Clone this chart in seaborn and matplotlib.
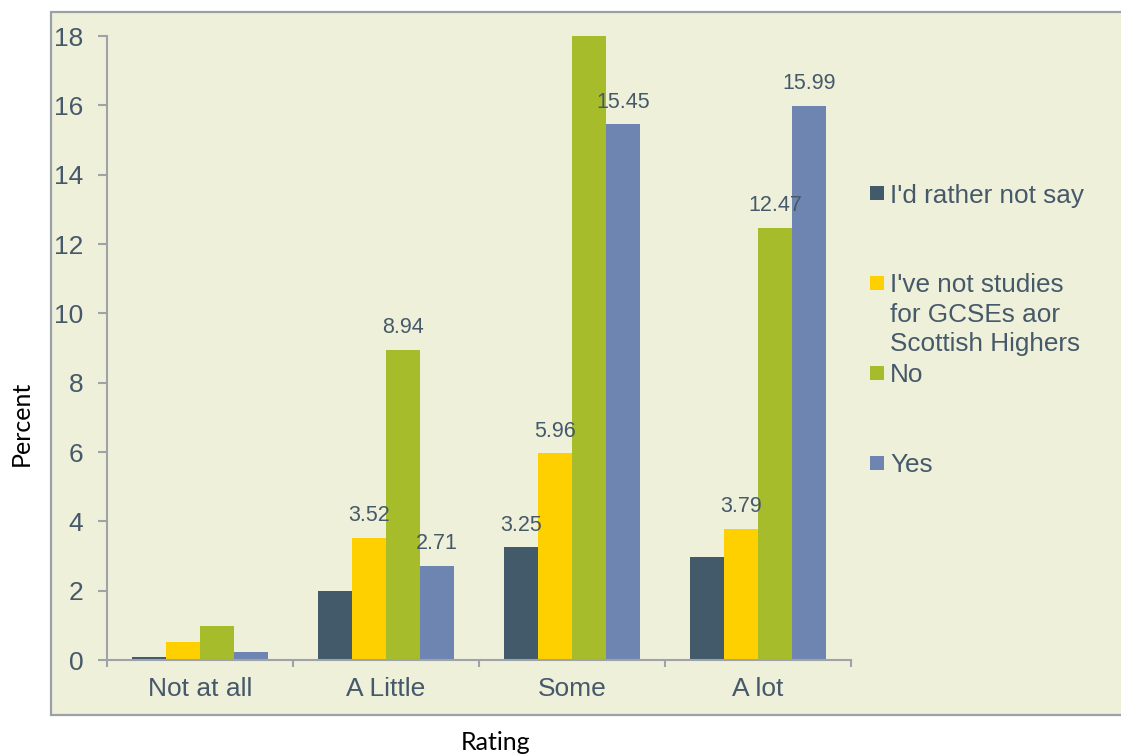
import matplotlib
matplotlib.use("Agg")
import matplotlib.pyplot as plt
from matplotlib.patches import Rectangle
import seaborn as sns
import pandas as pd

# ---- data ----
categories = ["Not at all", "A Little", "Some", "A lot"]
series = ["I'd rather not say",
          "I've not studies\nfor GCSEs aor\nScottish Highers",
          "No", "Yes"]
rather_not_say = [0.09, 1.99, 3.25, 2.97]
not_studied = [0.52, 3.52, 5.96, 3.79]
no_vals = [0.99, 8.94, 18.0, 12.47]
yes_vals = [0.24, 2.71, 15.45, 15.99]
values = [rather_not_say, not_studied, no_vals, yes_vals]
# data labels shown in the chart ("" = not shown)
labels_rather = ["", "", "3.25", ""]
labels_notstud = ["", "3.52", "5.96", "3.79"]
labels_no = ["", "8.94", "", "12.47"]
labels_yes = ["", "2.71", "15.45", "15.99"]
bar_labels = [labels_rather, labels_notstud, labels_no, labels_yes]
y_ticks = [0, 2, 4, 6, 8, 10, 12, 14, 16, 18]
x_title = "Rating"
y_title = "Percent"

# ---- styling ----
colors = ["#435A6B", "#FFD000", "#A6BC2A", "#6F85B1"]
bg = "#EEF0DA"
axis_gray = "#9DA3A8"
text_col = "#46596A"

rows = []
for s, vals in zip(series, values):
    for c, v in zip(categories, vals):
        rows.append({"Rating": c, "Series": s, "Percent": v})
df = pd.DataFrame(rows)

sns.set_theme(style="white")
plt.rcParams["font.family"] = ["Liberation Sans", "DejaVu Sans"]

W, H = 1121, 754
fig = plt.figure(figsize=(W / 100, H / 100), dpi=100)
fig.patch.set_facecolor("white")
fig.patches.append(Rectangle((51 / W, 1 - 715 / H), 1.2, (715 - 12) / H,
                             transform=fig.transFigure, facecolor=bg,
                             edgecolor="#9AA0A4", linewidth=1.6, zorder=-10))

ax = fig.add_axes([107 / W, 1 - 660 / H, (851 - 107) / W, (660 - 36) / H])
ax.patch.set_visible(False)
ax.set_zorder(1)

sns.barplot(data=df, x="Rating", y="Percent", hue="Series",
            order=categories, hue_order=series, palette=colors,
            width=0.731, saturation=1, linewidth=0, legend=False, ax=ax)

for cont, labs in zip(ax.containers, bar_labels):
    ax.bar_label(cont, labels=labs, padding=8.5, fontsize=15.5, color=text_col)

ax.set_ylim(0, 18)
ax.set_xlim(-0.5, len(categories) - 0.5)
ax.set_yticks(y_ticks)
ax.set_yticklabels([str(t) for t in y_ticks])
ax.set_xlabel("")
ax.set_ylabel("")

for sp in ["top", "right"]:
    ax.spines[sp].set_visible(False)
for sp in ["left", "bottom"]:
    ax.spines[sp].set_color(axis_gray)
    ax.spines[sp].set_linewidth(1.5)

ax.tick_params(axis="y", direction="out", length=6.5, width=1.5,
               color=axis_gray, labelsize=19, labelcolor=text_col, pad=10.5,
               left=True)
ax.tick_params(axis="x", which="major", length=0, labelsize=19,
               labelcolor=text_col, pad=12, bottom=True)
ax.set_xticks([i - 0.5 for i in range(len(categories) + 1)], minor=True)
ax.tick_params(axis="x", which="minor", direction="out", length=5,
               width=1.5, color=axis_gray, bottom=True)

# legend (Excel-style fixed slots)
leg_top0 = 183.5
leg_step = 90
for i, (s, col) in enumerate(zip(series, colors)):
    top = leg_top0 + i * leg_step
    fig.patches.append(Rectangle((870 / W, 1 - (top + 16) / H), 14 / W, 14 / H,
                                 transform=fig.transFigure, facecolor=col,
                                 edgecolor="none", zorder=3))
    fig.text(890 / W, 1 - top / H, s, fontsize=18.8, color=text_col,
             va="top", ha="left", linespacing=1.28)

fig.text(496 / W, 1 - 742 / H, x_title, fontsize=18, color="black",
         ha="center", va="center", family=["Lato", "DejaVu Sans"])
fig.text(21 / W, 1 - 423 / H, y_title, fontsize=18, color="black",
         ha="center", va="center", rotation=90, family=["Lato", "DejaVu Sans"])

fig.savefig("out.png", dpi=100, facecolor="white")
